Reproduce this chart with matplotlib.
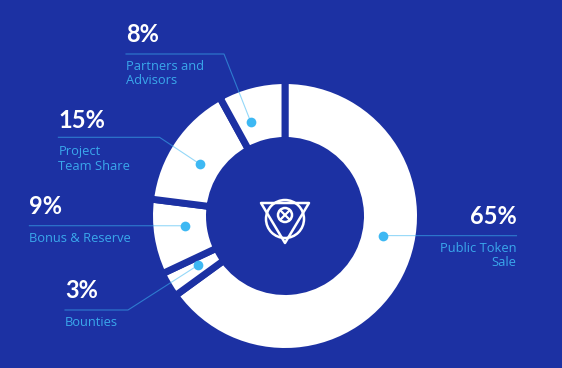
import matplotlib.pyplot as plt
import numpy as np
from matplotlib.patches import Circle, Polygon

# token allocation, clockwise from 12 o'clock
shares = [65, 3, 9, 15, 8]
pct_labels = ["65%", "3%", "9%", "15%", "8%"]
names = [["Public Token", "Sale"], ["Bounties"], ["Bonus & Reserve"],
         ["Project", "Team Share"], ["Partners and", "Advisors"]]

bg = "#1c31a3"
dot_blue = "#3db8f3"
text_blue = "#3aa8ec"
H = 368

fig = plt.figure(figsize=(5.62, 3.68), dpi=100, facecolor=bg)
ax = fig.add_axes([0, 0, 1, 1])
ax.set_facecolor(bg)

cx, cy = 285, H - 216
R, r = 132, 79
gap = 5.0
gap_px = gap * 100 / 72
wedges, _ = ax.pie(shares, startangle=90, counterclock=False,
                   radius=R + gap_px / 2, center=(cx, cy),
                   colors=["white"] * len(shares),
                   wedgeprops=dict(width=R - r + gap_px, edgecolor=bg,
                                   linewidth=gap, joinstyle="miter"))

# where the dot sits on each slice (degrees) and the label layout (image px)
dot_angle = [-11.3, 209.5, 185.6, 148.6, 110]
dot_r = 100
layout = [
    dict(x=516.5, ha="right", pct_y=216, name_y=[248, 263], elbow=[(516.5, 235.7)]),
    dict(x=65, ha="left", pct_y=291, name_y=[322], elbow=[(65, 310), (128, 310)]),
    dict(x=29.4, ha="left", pct_y=206, name_y=[238], elbow=[(29.4, 225.7)]),
    dict(x=58.4, ha="left", pct_y=120, name_y=[152, 166], elbow=[(58.4, 137.3), (159.5, 137.3)]),
    dict(x=126, ha="left", pct_y=35, name_y=[66, 80], elbow=[(126, 54), (224, 54)]),
]

for pct, lines, ang, lay in zip(pct_labels, names, dot_angle, layout):
    dx = cx + dot_r * np.cos(np.radians(ang))
    dy = cy + dot_r * np.sin(np.radians(ang))
    xs = [p[0] for p in lay["elbow"]] + [dx]
    ys = [H - p[1] for p in lay["elbow"]] + [dy]
    ax.plot(xs, ys, color=dot_blue, lw=0.8, alpha=0.55, zorder=3)
    ax.plot(dx, dy, "o", ms=7, color=dot_blue, mec="none", zorder=4)
    ax.text(lay["x"], H - lay["pct_y"], pct, ha=lay["ha"], va="center",
            fontsize=17, fontweight="bold", color="white", family="Lato")
    for line, ly in zip(lines, lay["name_y"]):
        ax.text(lay["x"], H - ly, line, ha=lay["ha"], va="center",
                fontsize=9.3, color=text_blue, family="Open Sans")

# logo in the hole
lw = 1.8
ax.add_patch(Polygon([(261, H - 203), (309, H - 203), (285, H - 243)],
                     closed=True, fill=False, ec="white", lw=lw, joinstyle="round"))
ax.add_patch(Circle((285, H - 219), 19, fill=False, ec="white", lw=lw))
ax.add_patch(Circle((285, H - 215), 7, fill=False, ec="white", lw=lw))
ax.plot([281, 289], [H - 211, H - 219], color="white", lw=1.6)
ax.plot([281, 289], [H - 219, H - 211], color="white", lw=1.6)

ax.set_xlim(0, 562)
ax.set_ylim(0, H)
ax.set_aspect("equal")
ax.axis("off")

fig.savefig("out.png", dpi=100, facecolor=bg)
